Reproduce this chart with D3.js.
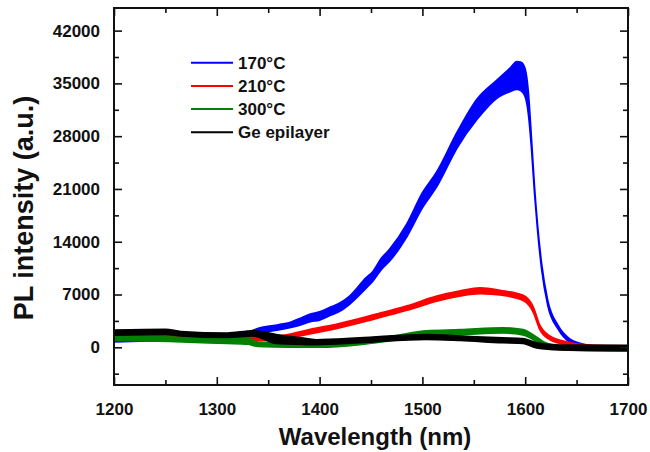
<!DOCTYPE html>
<html lang="en">
<head>
<meta charset="UTF-8">
<title>PL intensity vs wavelength</title>
<style>
  body { margin: 0; background: #fff; }
  svg { display: block; font-family: "Liberation Sans", Arial, sans-serif; font-weight: bold; }
  .axis text { font-size: 17px; font-weight: bold; fill: #111; }
  .axis line { stroke: #111; stroke-width: 1.6; }
  .axis path { display: none; }
  .legend text { font-size: 17px; fill: #111; }
</style>
</head>
<body>
<div id="chart"></div>
<script src="https://d3js.org/d3.v7.min.js"></script>
<script>
// tick values
const xTicks = [1200, 1300, 1400, 1500, 1600, 1700];
const xMinor = [1250, 1350, 1450, 1550, 1650];
const yTicks = [0, 7000, 14000, 21000, 28000, 35000, 42000];
const yMinor = [-3500, 3500, 10500, 17500, 24500, 31500, 38500];

// series: wavelength, lower and upper edge of the noisy trace
const names = ["170\u00b0C", "210\u00b0C", "300\u00b0C", "Ge epilayer"];
const colors = ["#0000ff", "#ff0000", "#008000", "#000000"];

const wl170 = [1200, 1250, 1300, 1330, 1342, 1360, 1371, 1380, 1391, 1400, 1410, 1420, 1430, 1445, 1452, 1460, 1468, 1485, 1500, 1514, 1534, 1553, 1573, 1585, 1592, 1596, 1600, 1603, 1606, 1609, 1612, 1616, 1622, 1632, 1643, 1656, 1670, 1700];
const lo170 = [700, 900, 1100, 1500, 1900, 2300, 2600, 2900, 3400, 3600, 4200, 4800, 5800, 7800, 8800, 10300, 11400, 14700, 18500, 21300, 26500, 30200, 33100, 33900, 34200, 34000, 33200, 31000, 26500, 20500, 15500, 10300, 5500, 2400, 700, 100, -200, -300];
const hi170 = [1100, 1300, 1500, 2000, 2600, 3000, 3300, 3800, 4400, 4700, 5300, 5900, 6900, 9200, 10100, 11800, 13000, 16400, 20500, 23300, 28600, 32900, 35500, 37000, 37900, 37800, 36900, 34000, 28000, 21500, 16300, 11100, 6200, 2900, 1150, 450, 150, 100];

const wl210 = [1200, 1230, 1265, 1300, 1340, 1360, 1388, 1420, 1452, 1485, 1514, 1537, 1556, 1578, 1598, 1608, 1614, 1624, 1641, 1660, 1700];
const lo210 = [1200, 1200, 1100, 1000, 900, 1000, 1700, 2600, 3700, 4900, 6100, 6800, 7100, 6900, 6200, 4600, 2400, 1000, 300, -100, -200];
const hi210 = [1700, 1700, 1600, 1400, 1400, 1500, 2300, 3200, 4300, 5500, 6800, 7500, 7900, 7500, 6900, 5300, 3000, 1500, 700, 300, 200];

const wl300 = [1200, 1260, 1310, 1330, 1340, 1370, 1400, 1439, 1471, 1504, 1537, 1578, 1598, 1608, 1621, 1641, 1700];
const lo300 = [900, 750, 500, 400, 100, 0, 0, 350, 900, 1500, 1650, 1900, 1650, 1000, 0, -400, -500];
const hi300 = [1600, 1350, 1200, 1200, 700, 600, 600, 1000, 1500, 2200, 2350, 2600, 2350, 1650, 550, 150, 0];

const wlGe = [1200, 1250, 1265, 1310, 1335, 1358, 1380, 1397, 1439, 1504, 1537, 1578, 1598, 1611, 1634, 1700];
const loGe = [1600, 1700, 1500, 1300, 1500, 500, 400, 350, 600, 1050, 900, 600, 500, -100, -350, -450];
const hiGe = [2300, 2400, 2100, 1900, 2200, 1700, 1300, 1000, 1250, 1700, 1500, 1250, 1150, 600, 300, 250];

const series = [
  { wl: wl170, lo: lo170, hi: hi170 },
  { wl: wl210, lo: lo210, hi: hi210 },
  { wl: wl300, lo: lo300, hi: hi300 },
  { wl: wlGe, lo: loGe, hi: hiGe }
];

const W = 650, H = 452;
const plot = { left: 114, right: 628, top: 8, bottom: 385 };

const svg = d3.select('#chart').append('svg')
  .attr('width', W).attr('height', H);

const x = d3.scaleLinear().domain([1200, 1700]).range([plot.left, plot.right]);
const y = d3.scaleLinear().domain([-5000, 45000]).range([plot.bottom, plot.top]);

// curves
const area = d3.area()
  .x(d => x(d[0]))
  .y0(d => y(d[1]))
  .y1(d => y(d[2]))
  .curve(d3.curveMonotoneX);

series.forEach((s, i) => {
  const pts = s.wl.map((w, k) => [w, s.lo[k], s.hi[k]]);
  svg.append('path')
    .attr('d', area(pts))
    .attr('fill', colors[i])
    .attr('stroke', colors[i])
    .attr('stroke-width', 1.6)
    .attr('stroke-linejoin', 'round');
});

// axes, ticks pointing inward
function addAxis(axis, tr) {
  svg.append('g').attr('class', 'axis')
    .attr('transform', tr).call(axis);
}
addAxis(d3.axisBottom(x).tickValues(xTicks).tickSize(-8).tickPadding(18).tickFormat(d3.format('d')),
  `translate(0,${plot.bottom})`);
addAxis(d3.axisBottom(x).tickValues(xMinor).tickSize(-5).tickFormat(''), `translate(0,${plot.bottom})`);
addAxis(d3.axisTop(x).tickValues(xTicks).tickSize(-8).tickFormat(''), `translate(0,${plot.top})`);
addAxis(d3.axisTop(x).tickValues(xMinor).tickSize(-5).tickFormat(''), `translate(0,${plot.top})`);

addAxis(d3.axisLeft(y).tickValues(yTicks).tickSize(-8).tickPadding(14).tickFormat(d3.format('d')),
  `translate(${plot.left},0)`);
addAxis(d3.axisLeft(y).tickValues(yMinor).tickSize(-5).tickFormat(''), `translate(${plot.left},0)`);
addAxis(d3.axisRight(y).tickValues(yTicks).tickSize(-8).tickFormat(''), `translate(${plot.right},0)`);
addAxis(d3.axisRight(y).tickValues(yMinor).tickSize(-5).tickFormat(''), `translate(${plot.right},0)`);

// frame
svg.append('rect')
  .attr('x', plot.left).attr('y', plot.top)
  .attr('width', plot.right - plot.left).attr('height', plot.bottom - plot.top)
  .attr('fill', 'none').attr('stroke', '#111').attr('stroke-width', 2);

// axis titles
svg.append('text')
  .attr('x', 375).attr('y', 445)
  .attr('text-anchor', 'middle')
  .style('font-size', '24px').attr('fill', '#111')
  .text('Wavelength (nm)');

svg.append('text')
  .attr('transform', 'translate(33,208) rotate(-90)')
  .attr('text-anchor', 'middle')
  .style('font-size', '27px').attr('fill', '#111')
  .text('PL intensity (a.u.)');

// legend
const legend = svg.append('g').attr('class', 'legend');
names.forEach((n, i) => {
  const ly = 62.7 + i * 23.2;
  legend.append('line')
    .attr('x1', 191).attr('x2', 233).attr('y1', ly).attr('y2', ly)
    .attr('stroke', colors[i]).attr('stroke-width', 2);
  legend.append('text')
    .attr('x', 238).attr('y', ly + 6)
    .text(n);
});
</script>
</body>
</html>
